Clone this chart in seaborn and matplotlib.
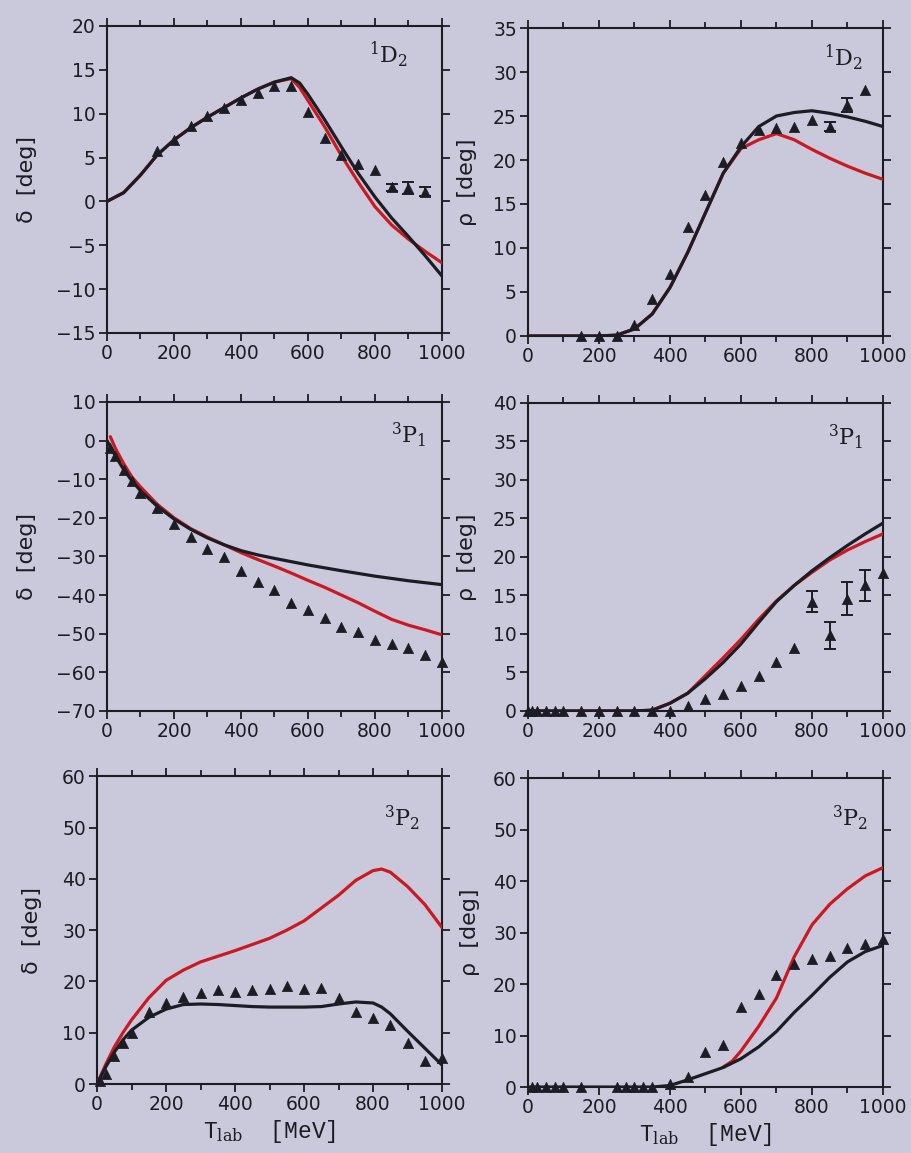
import numpy as np
import pandas as pd
import matplotlib
matplotlib.use("Agg")
import matplotlib.pyplot as plt
from matplotlib.ticker import MultipleLocator
import seaborn as sns

# ---------------- data ----------------
# Panel 1: 1D2 delta
d1_x = [0, 50, 100, 150, 200, 250, 300, 350, 400, 450, 500, 550, 575, 600, 650, 700, 750, 800, 850, 900, 950, 1000]
d1_black = [0, 1.0, 3.0, 5.3, 7.0, 8.4, 9.6, 10.7, 11.8, 12.8, 13.6, 14.1, 13.5, 12.2, 9.3, 6.2, 3.2, 0.5, -1.9, -4.0, -6.2, -8.5]
d1_red = [0, 1.0, 3.0, 5.3, 7.0, 8.4, 9.6, 10.7, 11.8, 12.8, 13.6, 14.0, 13.0, 11.5, 8.5, 5.2, 2.2, -0.6, -2.7, -4.3, -5.7, -7.0]
d1_px = [150, 200, 250, 300, 350, 400, 450, 500, 550, 600, 650, 700, 750, 800, 850, 900, 950]
d1_py = [5.7, 7.0, 8.6, 9.7, 10.6, 11.6, 12.3, 13.1, 13.2, 10.2, 7.2, 5.3, 4.3, 3.6, 1.6, 1.5, 1.1]
d1_ex = [850, 900, 950]
d1_ey = [1.6, 1.5, 1.1]
d1_ee = [0.4, 0.7, 0.5]

# Panel 2: 1D2 rho
r1_x = [0, 50, 100, 150, 200, 250, 300, 350, 400, 450, 500, 550, 600, 650, 700, 750, 800, 850, 900, 950, 1000]
r1_black = [0, 0, 0, 0, 0, 0.1, 0.8, 2.5, 5.5, 9.5, 14.0, 18.5, 21.5, 23.8, 25.0, 25.4, 25.6, 25.3, 24.9, 24.4, 23.8]
r1_red = [0, 0, 0, 0, 0, 0.1, 0.8, 2.5, 5.5, 9.5, 14.0, 18.5, 21.3, 22.3, 23.0, 22.3, 21.2, 20.2, 19.3, 18.5, 17.8]
r1_px = [150, 200, 250, 300, 350, 400, 450, 500, 550, 600, 650, 700, 750, 800, 850, 900, 950]
r1_py = [0, 0, 0, 1.3, 4.2, 7.0, 12.4, 16.0, 19.8, 21.9, 23.4, 23.6, 23.8, 24.6, 23.8, 26.3, 28.0]
r1_ex = [850, 900]
r1_ey = [23.8, 26.3]
r1_ee = [0.5, 0.8]

# Panel 3: 3P1 delta
d2_bx = [0, 10, 25, 50, 75, 100, 150, 200, 250, 300, 350, 400, 450, 500, 600, 700, 800, 900, 1000]
d2_black = [0, -1.5, -4.0, -7.5, -10.5, -13.0, -17.0, -20.3, -23.0, -25.2, -27.0, -28.5, -29.6, -30.5, -32.2, -33.7, -35.1, -36.3, -37.3]
d2_rx = [10, 25, 50, 75, 100, 150, 200, 250, 300, 350, 400, 450, 500, 550, 600, 650, 700, 750, 800, 850, 900, 950, 1000]
d2_red = [1.0, -2.0, -6.0, -9.5, -12.0, -16.5, -20.0, -22.8, -25.0, -27.0, -29.0, -30.8, -32.5, -34.3, -36.2, -38.0, -40.0, -42.0, -44.2, -46.3, -47.8, -49.0, -50.3]
d2_px = [10, 25, 50, 75, 100, 150, 200, 250, 300, 350, 400, 450, 500, 550, 600, 650, 700, 750, 800, 850, 900, 950, 1000]
d2_py = [-2.0, -4.0, -7.5, -10.5, -13.5, -17.5, -21.5, -25.0, -28.2, -30.1, -33.7, -36.6, -38.7, -42.0, -43.8, -46.0, -48.2, -49.5, -51.7, -52.6, -53.6, -55.6, -57.3]

# Panel 4: 3P1 rho
r2_x = [0, 50, 100, 150, 200, 250, 300, 350, 400, 450, 500, 550, 600, 650, 700, 750, 800, 850, 900, 950, 1000]
r2_black = [0, 0, 0, 0, 0, 0, 0, 0.1, 1.0, 2.3, 4.2, 6.3, 8.7, 11.5, 14.2, 16.3, 18.2, 19.9, 21.5, 23.0, 24.4]
r2_red = [0, 0, 0, 0, 0, 0, 0, 0.1, 1.0, 2.3, 4.6, 6.9, 9.3, 11.9, 14.3, 16.3, 18.0, 19.6, 20.9, 22.0, 23.0]
r2_px = [0, 10, 25, 50, 75, 100, 150, 200, 250, 300, 350, 400, 450, 500, 550, 600, 650, 700, 750, 800, 850, 900, 950, 1000]
r2_py = [0, 0, 0, 0, 0, 0, 0, 0, 0, 0, 0, 0, 0.7, 1.5, 2.2, 3.2, 4.6, 6.3, 8.2, 14.2, 9.8, 14.6, 16.3, 17.9]
r2_ex = [800, 850, 900, 950]
r2_ey = [14.2, 9.8, 14.6, 16.3]
r2_ee = [1.4, 1.8, 2.2, 2.0]

# Panel 5: 3P2 delta
d3_x = [0, 25, 50, 75, 100, 150, 200, 250, 300, 350, 400, 450, 500, 550, 600, 650, 700, 750, 800, 825, 850, 900, 950, 1000]
d3_black = [0, 3.3, 6.2, 8.6, 10.5, 13.0, 14.6, 15.5, 15.6, 15.5, 15.3, 15.1, 15.0, 15.0, 15.0, 15.1, 15.6, 16.0, 15.8, 15.0, 13.7, 10.3, 7.0, 3.7]
d3_red = [0, 3.8, 7.2, 10.0, 12.5, 16.8, 20.2, 22.2, 23.8, 24.9, 26.0, 27.2, 28.4, 30.0, 31.8, 34.3, 36.8, 39.7, 41.6, 41.9, 41.3, 38.5, 35.0, 30.5]
d3_px = [10, 25, 50, 75, 100, 150, 200, 250, 300, 350, 400, 450, 500, 550, 600, 650, 700, 750, 800, 850, 900, 950, 1000]
d3_py = [0.5, 2.0, 5.5, 8.0, 10.0, 14.0, 15.7, 17.0, 17.7, 18.3, 18.0, 18.4, 18.6, 19.2, 18.6, 18.7, 16.7, 14.1, 12.8, 11.5, 8.0, 4.4, 5.0]

# Panel 6: 3P2 rho
r3_x = [0, 50, 100, 150, 200, 250, 300, 350, 400, 450, 500, 550, 600, 650, 700, 750, 800, 850, 900, 950, 1000]
r3_black = [0, 0, 0, 0, 0, 0, 0, 0, 0.3, 1.4, 2.6, 3.8, 5.5, 7.8, 10.8, 14.5, 17.8, 21.3, 24.3, 26.3, 27.5]
r3_rx = [550, 575, 600, 650, 700, 750, 800, 850, 900, 950, 1000]
r3_red = [3.9, 5.0, 7.0, 11.8, 17.3, 25.3, 31.5, 35.5, 38.5, 41.0, 42.6]
r3_px = [10, 25, 50, 75, 100, 150, 250, 275, 300, 325, 350, 400, 450, 500, 550, 600, 650, 700, 750, 800, 850, 900, 950, 1000]
r3_py = [0, 0, 0, 0, 0, 0, 0, 0, 0, 0, 0, 0.5, 2.0, 6.8, 8.2, 15.5, 18.1, 21.7, 23.8, 24.9, 25.5, 27.0, 27.8, 28.8]

x_ticks = [0, 200, 400, 600, 800, 1000]
x_ticklabels = ["0", "200", "400", "600", "800", "1000"]

# ---------------- style ----------------
BG = "#c9c9db"
INK = "#1c1c24"
RED = "#cc1820"

sns.set_theme(style="ticks")
plt.rcParams["font.family"] = ["DejaVu Sans"]
plt.rcParams["mathtext.fontset"] = "dejavuserif"
plt.rcParams["axes.facecolor"] = BG
plt.rcParams["figure.facecolor"] = BG

fig = plt.figure(figsize=(9.12, 11.53), dpi=100)

# axes positions (fig fraction): left, bottom, width, height
pos = [
    (0.1173, 0.7112, 0.3673, 0.2663),
    (0.5789, 0.7086, 0.3893, 0.2671),
    (0.1173, 0.3834, 0.3673, 0.2680),
    (0.5789, 0.3834, 0.3893, 0.2671),
    (0.1064, 0.0598, 0.3783, 0.2670),
    (0.5789, 0.0572, 0.3893, 0.2680),
]
axes = [fig.add_axes(p) for p in pos]


def style_axis(ax, ylim, ystep, ylabel, label_x, tag, tag_xy, xlabel=False):
    ax.set_xlim(0, 1000)
    ax.set_ylim(*ylim)
    ax.set_xticks(x_ticks)
    ax.set_xticklabels(x_ticklabels)
    ax.xaxis.set_minor_locator(MultipleLocator(100))
    ax.yaxis.set_major_locator(MultipleLocator(ystep))
    ax.tick_params(which="both", direction="out", top=True, right=True,
                   labeltop=False, labelright=False, color=INK, width=1.3)
    ax.tick_params(which="major", length=6, labelsize=13.5, labelcolor=INK, pad=2)
    ax.tick_params(which="minor", length=4)
    for s in ax.spines.values():
        s.set_visible(True)
        s.set_color(INK)
        s.set_linewidth(1.5)
    ax.set_ylabel(ylabel, fontsize=16, color=INK)
    ax.yaxis.set_label_coords(label_x, 0.5)
    if xlabel:
        ax.set_xlabel(r"T$_{\rm lab}$  [MeV]", fontsize=16.5, color=INK,
                      family=["Liberation Mono"], labelpad=3)
    else:
        ax.set_xlabel("")
    ax.text(tag_xy[0], tag_xy[1], tag, transform=ax.transAxes, ha="right", va="top",
            fontsize=16, color=INK, family=["DejaVu Serif"])


def curve(ax, x, y, color):
    sns.lineplot(x=x, y=y, ax=ax, color=color, lw=2.3, estimator=None, sort=False, zorder=3)


def points(ax, x, y):
    sns.scatterplot(x=x, y=y, ax=ax, marker="^", s=55, color=INK, edgecolor=INK,
                    linewidth=0.5, zorder=4, clip_on=False)


def errs(ax, x, y, e):
    ax.errorbar(x, y, yerr=e, fmt="none", ecolor=INK, elinewidth=1.4, capsize=4,
                capthick=1.4, zorder=4, clip_on=False)


# Panel 1
ax = axes[0]
curve(ax, d1_x, d1_red, RED)
curve(ax, d1_x, d1_black, INK)
points(ax, d1_px, d1_py)
errs(ax, d1_ex, d1_ey, d1_ee)
style_axis(ax, (-15, 20), 5, "δ  [deg]", -0.209, r"$^1$D$_2$", (0.90, 0.955))

# Panel 2
ax = axes[1]
curve(ax, r1_x, r1_red, RED)
curve(ax, r1_x, r1_black, INK)
points(ax, r1_px, r1_py)
errs(ax, r1_ex, r1_ey, r1_ee)
style_axis(ax, (0, 35), 5, "ρ  [deg]", -0.144, r"$^1$D$_2$", (0.944, 0.951))

# Panel 3
ax = axes[2]
curve(ax, d2_rx, d2_red, RED)
curve(ax, d2_bx, d2_black, INK)
points(ax, d2_px, d2_py)
style_axis(ax, (-70, 10), 10, "δ  [deg]", -0.209, r"$^3$P$_1$", (0.955, 0.942))

# Panel 4
ax = axes[3]
curve(ax, r2_x, r2_red, RED)
curve(ax, r2_x, r2_black, INK)
points(ax, r2_px, r2_py)
errs(ax, r2_ex, r2_ey, r2_ee)
style_axis(ax, (0, 40), 5, "ρ  [deg]", -0.144, r"$^3$P$_1$", (0.944, 0.938))

# Panel 5
ax = axes[4]
curve(ax, d3_x, d3_red, RED)
curve(ax, d3_x, d3_black, INK)
points(ax, d3_px, d3_py)
style_axis(ax, (0, 60), 10, "δ  [deg]", -0.159, r"$^3$P$_2$", (0.936, 0.912), xlabel=True)

# Panel 6
ax = axes[5]
curve(ax, r3_rx, r3_red, RED)
curve(ax, r3_x, r3_black, INK)
points(ax, r3_px, r3_py)
style_axis(ax, (0, 60), 10, "ρ  [deg]", -0.135, r"$^3$P$_2$", (0.958, 0.919), xlabel=True)

fig.savefig("out.png", dpi=100, facecolor=BG)
